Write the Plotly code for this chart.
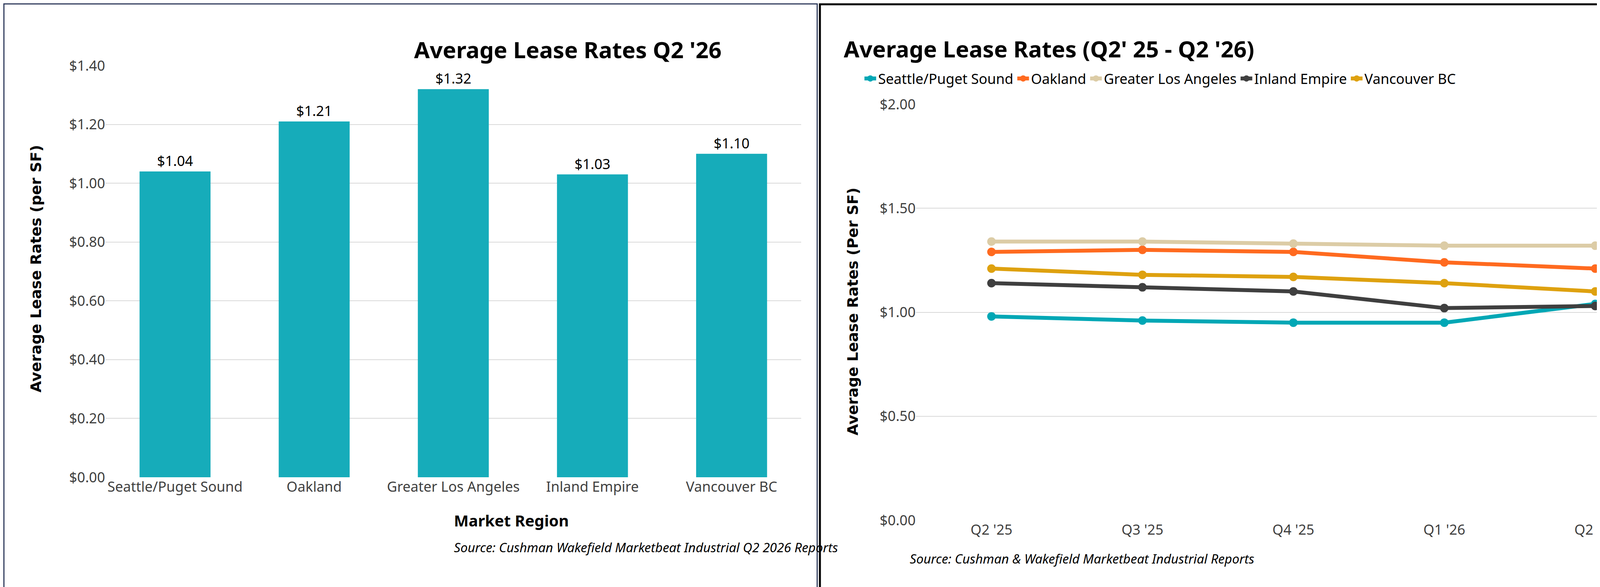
import plotly.graph_objects as go

regions = ["Seattle/Puget Sound", "Oakland", "Greater Los Angeles", "Inland Empire", "Vancouver BC"]
q2_26 = [1.04, 1.21, 1.32, 1.03, 1.10]

quarters = ["Q2 '25", "Q3 '25", "Q4 '25", "Q1 '26", "Q2 '26"]
seattle = [0.98, 0.96, 0.95, 0.95, 1.04]
oakland = [1.29, 1.30, 1.29, 1.24, 1.21]
gla = [1.34, 1.34, 1.33, 1.32, 1.32]
inland = [1.14, 1.12, 1.10, 1.02, 1.03]
vancouver = [1.21, 1.18, 1.17, 1.14, 1.10]

W, H = 4317, 1503
FONT = "Noto Sans"
fig = go.Figure()

fig.add_trace(go.Bar(x=regions, y=q2_26, marker=dict(color="#16acba", line=dict(width=0)),
                     width=0.51, texttemplate="$%{y:.2f}", textposition="outside",
                     textfont=dict(size=36, color="#000000", family=FONT),
                     cliponaxis=False, showlegend=False, xaxis="x", yaxis="y"))

series = [("Seattle/Puget Sound", seattle, "#00a7b5"), ("Oakland", oakland, "#ff6a1f"),
          ("Greater Los Angeles", gla, "#dccca6"), ("Inland Empire", inland, "#3f3f3f"),
          ("Vancouver BC", vancouver, "#dea10f")]
for name, vals, col in series:
    fig.add_trace(go.Scatter(x=quarters, y=vals, name=name, mode="lines+markers",
                             line=dict(color=col, width=10), marker=dict(color=col, size=22),
                             xaxis="x2", yaxis="y2"))

tick = dict(size=36, color="#404040", family=FONT)
axt = dict(size=38, color="#000000", family="DejaVu Sans")
fig.update_layout(
    width=W, height=H, margin=dict(l=0, r=0, t=0, b=0, autoexpand=False),
    paper_bgcolor="white", plot_bgcolor="white", font=dict(family=FONT),
    xaxis=dict(domain=[262/W, 2043/W], tickfont=tick, showgrid=False, showline=False,
               ticks="", anchor="y", automargin=False),
    yaxis=dict(domain=[1-1214/H, 1-160/H], range=[0, 1.4], dtick=0.2, tickformat="$.2f",
               tickfont=tick, gridcolor="#d9d9d9", gridwidth=2, zeroline=False,
               anchor="x", automargin=False),
    xaxis2=dict(domain=[2337/W, 4269/W], tickfont=tick, showgrid=False, ticks="",
                range=[-0.5, 4.5], anchor="y2", automargin=False),
    yaxis2=dict(domain=[1-1324/H, 1-259/H], range=[0, 2], dtick=0.5, tickformat="$.2f",
                tickfont=tick, gridcolor="#d9d9d9", gridwidth=2, zeroline=False,
                anchor="x2", automargin=False),
    legend=dict(orientation="h", x=2200/W, y=1-193/H, xanchor="left", yanchor="middle",
                font=dict(size=36, color="#000000", family=FONT),
                traceorder="normal", bgcolor="rgba(0,0,0,0)"),
    shapes=[
        dict(type="rect", xref="paper", yref="paper", x0=2/W, x1=2084/W, y0=2/H, y1=1-2/H,
             line=dict(color="#2f3b5c", width=3)),
        dict(type="rect", xref="paper", yref="paper", x0=2091/W, x1=1-3/W, y0=3/H, y1=1-3/H,
             line=dict(color="#000000", width=5)),
    ],
    annotations=[
        dict(text="<b>Average Lease Rates Q2 '26</b>", x=1050/W, y=1-77/H, xref="paper", yref="paper",
             showarrow=False, font=dict(size=58, color="#000000", family=FONT)),
        dict(text="<b>Average Lease Rates (per SF)</b>", x=60/W, y=1-680/H, xref="paper", yref="paper",
             showarrow=False, textangle=-90, font=axt),
        dict(text="<b>Market Region</b>", x=1152/W, y=1-1354/H, xref="paper", yref="paper",
             showarrow=False, font=dict(size=40, color="#000000", family=FONT)),
        dict(text="<i>Source: Cushman Wakefield Marketbeat Industrial Q2 2026 Reports</i>", x=1152/W,
             y=1-1418/H, xref="paper", yref="paper", showarrow=False,
             font=dict(size=33, color="#000000", family=FONT)),
        dict(text="<b>Average Lease Rates (Q2' 25 - Q2 '26)</b>", x=3205/W, y=1-75/H, xref="paper",
             yref="paper", showarrow=False, font=dict(size=58, color="#000000", family=FONT)),
        dict(text="<b>Average Lease Rates (Per SF)</b>", x=2175/W, y=1-790/H, xref="paper", yref="paper",
             showarrow=False, textangle=-90, font=axt),
        dict(text="<i>Source: Cushman & Wakefield Marketbeat Industrial Reports</i>", x=3205/W,
             y=1-1447/H, xref="paper", yref="paper", showarrow=False,
             font=dict(size=33, color="#000000", family=FONT)),
    ],
)
fig.write_html("out.html")
